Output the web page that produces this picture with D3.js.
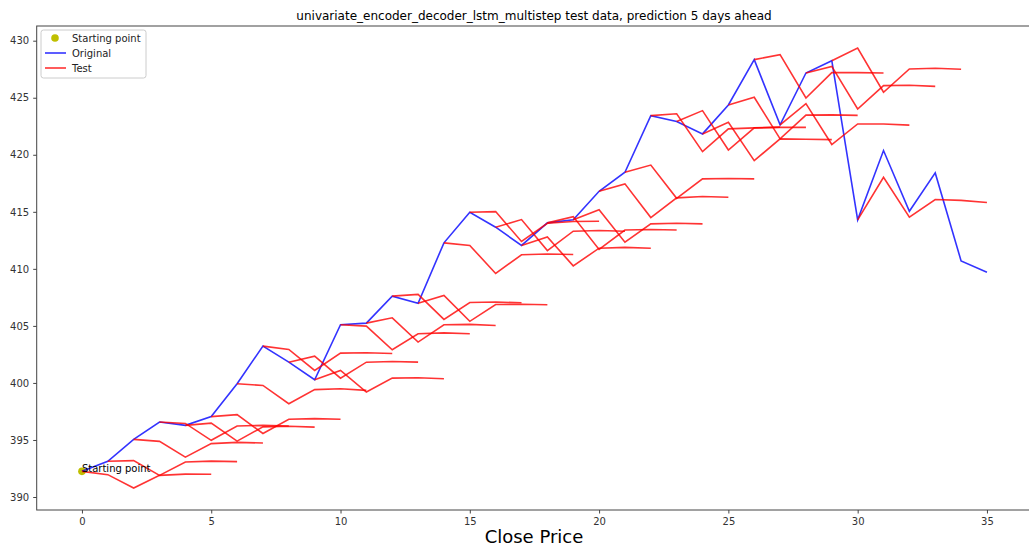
<!DOCTYPE html>
<html>
<head>
<meta charset="utf-8">
<script src="https://cdn.jsdelivr.net/npm/d3@7"></script>
<style>
  html, body { margin: 0; padding: 0; background: #fff; }
  svg { display: block; font-family: "DejaVu Sans", sans-serif; }
</style>
</head>
<body>
<svg id="chart" width="1029" height="548"></svg>
<script>
// Observed closing prices, one per day
const days = d3.range(0, 36);
const original = [392.25, 393.13, 395.05, 396.57, 396.28, 397.05, 399.93, 403.23, 401.82, 400.28,
                  405.10, 405.24, 407.61, 406.99, 412.28, 414.96, 413.65, 412.05, 414.03, 414.30,
                  416.80, 418.47, 423.43, 422.91, 421.83, 424.37, 428.34, 422.62, 427.17, 428.25,
                  414.30, 420.37, 415.05, 418.41, 410.70, 409.71];

// Five-day-ahead forecasts, one row per starting day (day 0 .. day 30)
const forecasts = [
  [391.96, 390.79, 391.90, 392.01, 391.99],
  [393.19, 391.90, 393.07, 393.15, 393.10],
  [394.88, 393.50, 394.68, 394.79, 394.73],
  [396.45, 394.97, 396.22, 396.28, 396.22],
  [396.48, 394.90, 396.15, 396.20, 396.13],
  [397.22, 395.57, 396.81, 396.87, 396.81],
  [399.78, 398.18, 399.41, 399.49, 399.35],
  [402.94, 401.10, 402.61, 402.64, 402.58],
  [402.35, 400.42, 401.82, 401.88, 401.82],
  [401.10, 399.20, 400.42, 400.45, 400.37],
  [404.98, 402.91, 404.31, 404.39, 404.31],
  [405.71, 403.58, 405.10, 405.13, 405.04],
  [407.76, 405.57, 407.05, 407.09, 407.03],
  [407.67, 405.40, 406.87, 406.90, 406.85],
  [412.05, 409.60, 411.23, 411.30, 411.26],
  [415.02, 412.40, 414.00, 414.15, 414.17],
  [414.32, 411.60, 413.30, 413.36, 413.30],
  [412.80, 410.26, 411.81, 411.88, 411.80],
  [414.58, 411.70, 413.40, 413.45, 413.40],
  [415.18, 412.34, 413.94, 414.00, 413.94],
  [417.45, 414.50, 416.22, 416.34, 416.28],
  [419.10, 416.18, 417.89, 417.92, 417.89],
  [423.59, 420.28, 422.27, 422.36, 422.42],
  [423.87, 420.42, 422.36, 422.40, 422.40],
  [422.85, 419.49, 421.39, 421.36, 421.33],
  [425.04, 421.40, 423.48, 423.50, 423.45],
  [428.78, 424.98, 427.20, 427.20, 427.17],
  [424.48, 420.90, 422.70, 422.70, 422.60],
  [427.75, 424.01, 426.06, 426.10, 426.00],
  [429.36, 425.48, 427.52, 427.58, 427.50],
  [418.03, 414.53, 416.08, 416.00, 415.81]
];

const xTicks = [0, 5, 10, 15, 20, 25, 30, 35];
const yTicks = [390, 395, 400, 405, 410, 415, 420, 425, 430];
const titleText = "univariate_encoder_decoder_lstm_multistep test data, prediction 5 days ahead";
const xLabelText = "Close Price";
const legendLabels = ["Starting point", "Original", "Test"];
const startLabel = "Starting point";

// Each forecast line begins at the observed price of its starting day
const testLines = forecasts.map((row, i) =>
  [[i, original[i]]].concat(row.map((v, k) => [i + k + 1, v])));

const svg = d3.select("#chart");
const plot = { left: 36.7, top: 26, bottom: 510 };

// Axis limits padded by 5% of the data span on each side
const allY = original.concat(forecasts.flat());
const [yMin, yMax] = d3.extent(allY);
const yPad = (yMax - yMin) * 0.05;
const [xMin, xMax] = d3.extent(days);
const xPad = (xMax - xMin) * 0.05;
const pxPerDay = 25.857;

const x = d3.scaleLinear()
  .domain([xMin - xPad, xMax + xPad])
  .range([plot.left, plot.left + (xMax - xMin + 2 * xPad) * pxPerDay]);
const y = d3.scaleLinear()
  .domain([yMin - yPad, yMax + yPad])
  .range([plot.bottom, plot.top]);

const line = d3.line().x(d => x(d[0])).y(d => y(d[1]));

const [xr0, xr1] = x.range();

// Frame
svg.append("rect")
  .attr("x", xr0).attr("y", plot.top)
  .attr("width", xr1 - xr0).attr("height", plot.bottom - plot.top)
  .attr("fill", "none").attr("stroke", "#444").attr("stroke-width", 1);

// Axes
const xAxis = svg.append("g")
  .attr("transform", `translate(0,${plot.bottom})`)
  .call(d3.axisBottom(x).tickValues(xTicks).tickSize(3.5).tickPadding(4).tickFormat(d3.format("d")));
const yAxis = svg.append("g")
  .attr("transform", `translate(${xr0},0)`)
  .call(d3.axisLeft(y).tickValues(yTicks).tickSize(3.5).tickPadding(4).tickFormat(d3.format("d")));
[xAxis, yAxis].forEach(g => {
  g.select(".domain").remove();
  g.selectAll(".tick line").attr("stroke", "#444");
  g.selectAll(".tick text").attr("fill", "#333")
    .style("font-family", "DejaVu Sans, sans-serif").style("font-size", "10px");
});

// Starting point marker
svg.append("circle")
  .attr("cx", x(days[0])).attr("cy", y(original[0])).attr("r", 3.8)
  .attr("fill", "#bfbf00");

// Original series
svg.append("path")
  .datum(days.map((d, i) => [d, original[i]]))
  .attr("d", line)
  .attr("fill", "none").attr("stroke", "blue").attr("stroke-opacity", 0.8)
  .attr("stroke-width", 1.6);

// Forecast lines
svg.append("g").selectAll("path")
  .data(testLines)
  .join("path")
  .attr("d", line)
  .attr("fill", "none").attr("stroke", "red").attr("stroke-opacity", 0.8)
  .attr("stroke-width", 1.6);

// Annotation at the first observation
svg.append("text")
  .attr("x", x(days[0])).attr("y", y(original[0]) + 0.5)
  .attr("font-size", "10px").attr("fill", "#000")
  .text(startLabel);

// Title and x label
svg.append("text")
  .attr("x", 534).attr("y", 19.5)
  .attr("text-anchor", "middle").attr("font-size", "12px").attr("fill", "#000")
  .text(titleText);
svg.append("text")
  .attr("x", 534).attr("y", 543)
  .attr("text-anchor", "middle").attr("font-size", "18px").attr("fill", "#000")
  .text(xLabelText);

// Legend
const legend = svg.append("g").attr("transform", "translate(41,30)");
legend.append("rect")
  .attr("width", 105).attr("height", 48).attr("rx", 2.5)
  .attr("fill", "#fff").attr("fill-opacity", 0.8)
  .attr("stroke", "#ccc").attr("stroke-width", 1);
const rowY = [8, 23, 38];
legend.append("circle").attr("cx", 14).attr("cy", rowY[0]).attr("r", 3.8).attr("fill", "#bfbf00");
legend.append("line").attr("x1", 4).attr("x2", 25).attr("y1", rowY[1]).attr("y2", rowY[1])
  .attr("stroke", "blue").attr("stroke-opacity", 0.8).attr("stroke-width", 1.6);
legend.append("line").attr("x1", 4).attr("x2", 25).attr("y1", rowY[2]).attr("y2", rowY[2])
  .attr("stroke", "red").attr("stroke-opacity", 0.8).attr("stroke-width", 1.6);
legend.selectAll("text.lbl")
  .data(legendLabels)
  .join("text")
  .attr("class", "lbl")
  .attr("x", 31).attr("y", (d, i) => rowY[i] + 3.6)
  .attr("font-size", "10px").attr("fill", "#222")
  .text(d => d);
</script>
</body>
</html>
